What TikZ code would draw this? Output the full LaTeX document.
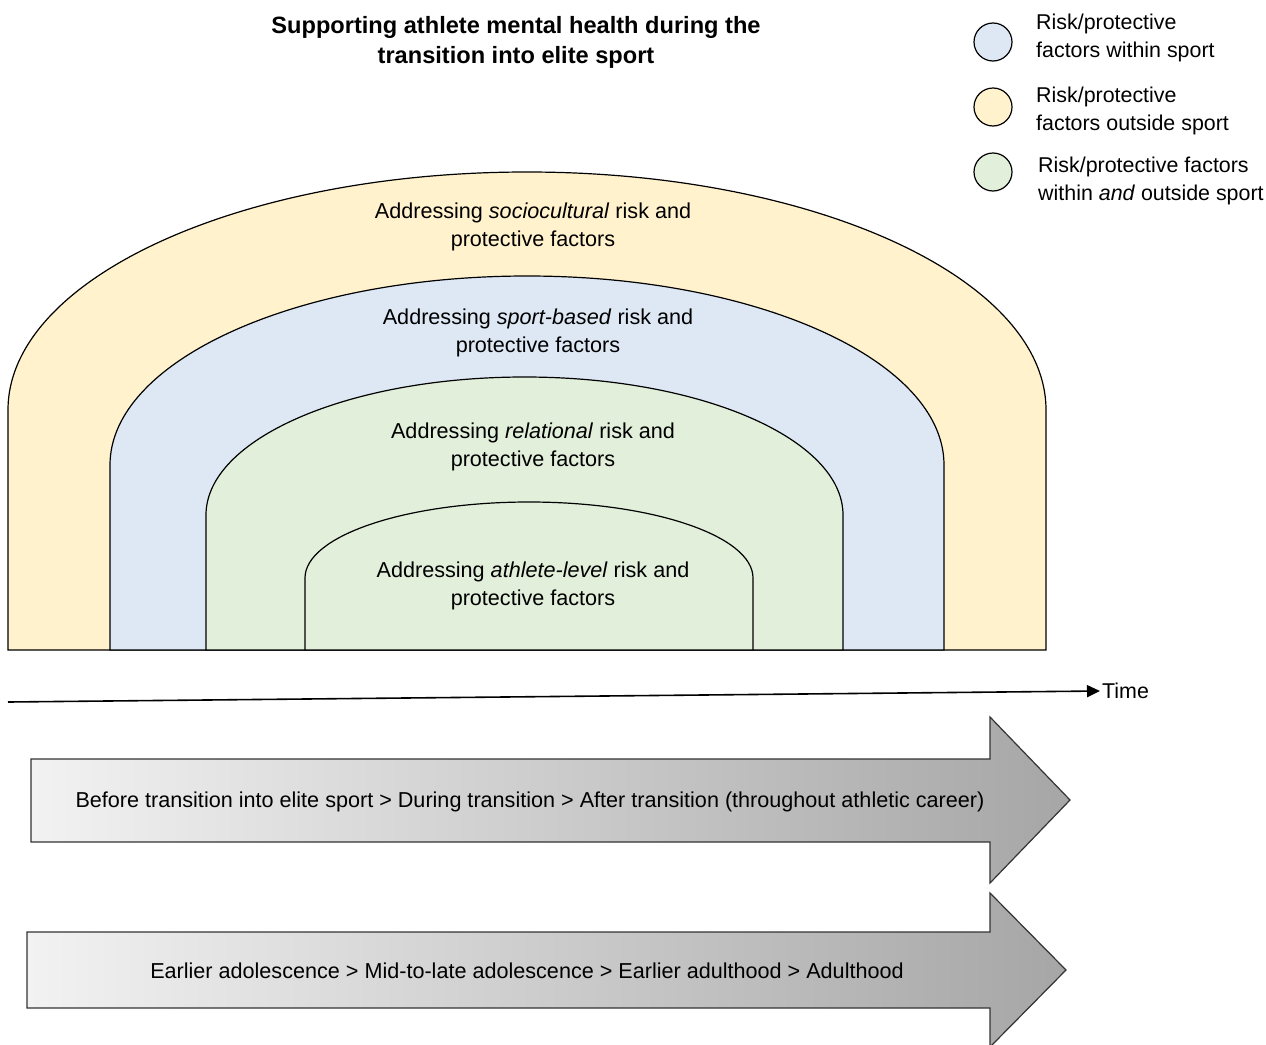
\documentclass[tikz,border=0pt]{standalone}
\usepackage{fontspec}
\setmainfont{Liberation Sans}
\usetikzlibrary{arrows.meta}
\definecolor{yel}{HTML}{FFF2CC}
\definecolor{blu}{HTML}{DEE8F5}
\definecolor{grn}{HTML}{E2EFDA}
\definecolor{arrowL}{HTML}{F2F2F2}
\definecolor{arrowR}{HTML}{A6A6A6}
\begin{document}
\begin{tikzpicture}[x=1pt,y=1pt,
  txt/.style={font=\fontsize{21.6}{28}\selectfont, align=center, inner sep=0pt},
  legtxt/.style={font=\fontsize{21.4}{28}\selectfont, align=left, anchor=west, inner sep=0pt},
  arch/.style={draw=black, line width=1.2pt},
  bigarrow/.style={draw=black!80, line width=1.2pt, left color=arrowL, right color=arrowR},
  legdot/.style={circle, draw=black, line width=1.2pt, minimum size=38pt, inner sep=0pt}]
\useasboundingbox (0,0) rectangle (1266,-1044);
\clip (0,0) rectangle (1266,-1044);
\fill[white] (0,0) rectangle (1266,-1044);

% title
\node[font=\bfseries\fontsize{23.6}{30}\selectfont, align=center, inner sep=0pt] (title) at (516,-42)
  {Supporting athlete mental health during the\\transition into elite sport};

% arches
\path[arch, fill=yel] (8,-650) -- (8,-410) arc[start angle=180,end angle=0,x radius=519,y radius=238] -- (1046,-650) -- cycle;
\path[arch, fill=blu] (110,-650) -- (110,-465) arc[start angle=180,end angle=0,x radius=417,y radius=189] -- (944,-650) -- cycle;
\path[arch, fill=grn] (206,-650) -- (206,-515) arc[start angle=180,end angle=0,x radius=318.5,y radius=138] -- (843,-650) -- cycle;
\path[arch, fill=grn] (305,-650) -- (305,-578) arc[start angle=180,end angle=0,x radius=224,y radius=76] -- (753,-650) -- cycle;

\node[txt] (socio) at (533,-227) {Addressing \textit{sociocultural} risk and\\protective factors};
\node[txt] (sport) at (538,-333) {Addressing \textit{sport-based} risk and\\protective factors};
\node[txt] (rel) at (533,-447) {Addressing \textit{relational} risk and\\protective factors};
\node[txt] (ath) at (533,-586) {Addressing \textit{athlete-level} risk and\\protective factors};

% time axis
\coordinate (t0) at (8,-702);
\node[font=\fontsize{21.4}{28}\selectfont, anchor=west, inner sep=2pt] (time) at (1100,-691) {Time};
\draw[line width=1.6pt, -{Triangle[length=13pt,width=12pt]}] (t0) -- (time.west);

% big arrows
\path[bigarrow] (31,-759) -- (990,-759) -- (990,-717) -- (1070,-800) -- (990,-883) -- (990,-842) -- (31,-842) -- cycle;
\node[txt] (career) at (530,-802) {Before transition into elite sport {>} During transition {>} After transition (throughout athletic career)};
\path[bigarrow] (27,-932) -- (990,-932) -- (990,-893) -- (1066,-970) -- (990,-1047) -- (990,-1008) -- (27,-1008) -- cycle;
\node[txt] (age) at (527,-971) {Earlier adolescence {>} Mid-to-late adolescence {>} Earlier adulthood {>} Adulthood};

% legend
\node[legdot, fill=blu] (d1) at (993,-42) {};
\node[legdot, fill=yel] (d2) at (993,-107) {};
\node[legdot, fill=grn] (d3) at (993,-172) {};
\node[legtxt] (l1) at (1036,-38) {Risk/protective\\factors within sport};
\node[legtxt] (l2) at (1036,-111) {Risk/protective\\factors outside sport};
\node[legtxt] (l3) at (1038,-181) {Risk/protective factors\\within \textit{and} outside sport};
\end{tikzpicture}
\end{document}
